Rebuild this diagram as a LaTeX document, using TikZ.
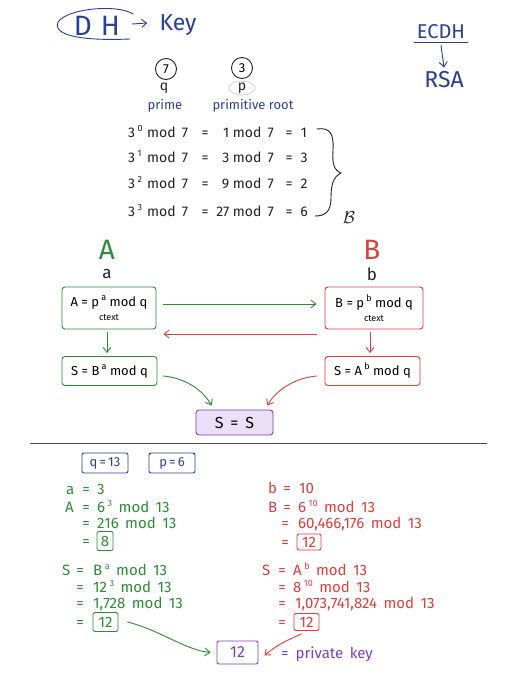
\documentclass[tikz,border=0pt]{standalone}
\usepackage{fontspec}
\setmainfont{Fira Sans}
\usetikzlibrary{arrows.meta,shapes.geometric}
\definecolor{dblue}{HTML}{2B3F96}
\definecolor{dgreen}{HTML}{2F8A3A}
\definecolor{dred}{HTML}{D9413E}
\definecolor{dpurple}{HTML}{7E3FB8}
\definecolor{lpurple}{HTML}{EADFF7}
\definecolor{ink}{HTML}{222222}
\newcommand{\supr}[2]{\,\raisebox{#1}{\fontsize{9}{9}\selectfont #2}}
\tikzset{
  hand/.style={line width=0.9pt, line cap=round, line join=round},
  arr/.style={hand, -{Straight Barb[length=5pt,width=8pt]}},
  f/.style={inner sep=0pt, font=\fontsize{#1}{#1}\selectfont},
  eq/.style={inner sep=0pt, font=\fontsize{14}{16}\selectfont, text height=9.5pt, text depth=0pt, text=ink},
  lo/.style={inner sep=0pt, font=\fontsize{15}{17}\selectfont, text height=10pt, text depth=0pt},
  bx/.style={draw, hand, rounded corners=3pt, inner sep=0pt, align=center, font=\fontsize{13}{15}\selectfont},
  sbx/.style={draw, hand, rounded corners=2pt, inner sep=0pt, font=\fontsize{15}{17}\selectfont},
}
\begin{document}
\begin{tikzpicture}[x=1pt,y=-1pt]
\useasboundingbox (0,0) rectangle (510,680);
\fill[white] (0,0) rectangle (510,680);

% ---------- header ----------
\node[f=28, text=dblue] (dh) at (97,26) {D\hspace{9pt}H};
\draw[hand, dblue] (133,14) .. controls (118,4) and (68,8) .. (58,22) .. controls (52,36) and (84,41) .. (130,39);
\node[f=23, text=dblue] (key) at (178,25) {Key};
\draw[arr, dblue] ([xshift=12pt,yshift=2pt]dh.east) -- ([xshift=-12pt,yshift=2pt]key.west);

\node[f=20, text=dblue] (ecdh) at (441,32) {ECDH};
\draw[hand, dblue] (414,42) -- (468,42);
\node[f=23, text=dblue] (rsa) at (444,80) {RSA};
\draw[arr, dblue] ([yshift=-6pt]ecdh.south) -- ([yshift=4pt]rsa.north);

\node[draw=ink, hand, circle, minimum size=21pt, inner sep=0pt, font=\fontsize{13}{13}\selectfont] (c7) at (166,69) {7};
\node[draw=ink, hand, circle, minimum size=21pt, inner sep=0pt, font=\fontsize{13}{13}\selectfont] (c3) at (242,68) {3};
\node[f=14, text=ink] (q) at (164,88) {q};
\draw[gray!30, line width=1pt] (242,88) ellipse [x radius=13pt, y radius=7pt];
\node[f=14, text=ink] (p) at (242,88) {p};
\node[f=13, text=dblue] (prime) at (165,106) {prime};
\node[f=13, text=dblue] (proot) at (253,106) {primitive root};

% ---------- powers of 3 ----------
\foreach \e/\m/\r/\yy in {0/1/1/133, 1/3/3/158, 2/9/2/184, 3/27/6/212}{
  \node[eq, anchor=west] at (128,\yy) {3\supr{6pt}{\e}};
  \node[eq, anchor=west] at (147,\yy) {mod\, 7};
  \node[eq] at (205,\yy) {=};
  \node[eq, anchor=east] at (274,\yy) {\m\ mod\, 7};
  \node[eq] at (289,\yy) {=};
  \node[eq] at (304,\yy) {\r};
}
\draw[hand, ink] (317,129) .. controls (330,127) and (334,134) .. (333,150)
  .. controls (332,164) and (334,170) .. (341,173)
  .. controls (333,177) and (331,185) .. (331,198)
  .. controls (331,212) and (325,216) .. (315,216);
\node[inner sep=0pt, text=ink, font=\fontsize{16}{16}\selectfont] (bscript) at (349,218) {$\mathcal{B}$};

% ---------- protocol ----------
\node[f=28, text=dgreen] (Alab) at (107,250) {A};
\node[f=17, text=ink] (alow) at (107,274) {a};
\node[f=28, text=dred] (Blab) at (372,250) {B};
\node[f=17, text=ink] (blow) at (372,274) {b};

\node[bx, draw=dgreen, minimum width=94pt, minimum height=42pt] (boxA) at (109,308)
  {A = p\supr{6pt}{a} mod q\\[-1pt]{\fontsize{9}{10}\selectfont ctext}};
\node[bx, draw=dred, minimum width=98pt, minimum height=42pt] (boxB) at (374,308)
  {B = p\supr{6pt}{b} mod q\\[-1pt]{\fontsize{9}{10}\selectfont ctext}};
\node[bx, draw=dgreen, minimum width=95pt, minimum height=29pt] (sA) at (109.5,371) {S = B\supr{6pt}{a} mod q};
\node[bx, draw=dred, minimum width=95pt, minimum height=29pt] (sB) at (372.5,371) {S = A\supr{6pt}{b} mod q};
\node[bx, draw=dpurple, fill=lpurple, minimum width=77pt, minimum height=25pt, font=\fontsize{16}{18}\selectfont] (ss) at (234.5,422.5) {S\, =\, S};

\draw[arr, dgreen] ([xshift=7pt,yshift=4pt]boxA.east) -- ([xshift=-8pt,yshift=4pt]boxB.west);
\draw[arr, dred] ([xshift=-8pt,yshift=-26pt]boxB.west) -- ([xshift=7pt,yshift=-26pt]boxA.east);
\draw[arr, dgreen] ([yshift=-3pt]boxA.south -| 107,0) -- ([yshift=3pt]sA.north -| 107,0);
\draw[arr, dred] ([yshift=-3pt]boxB.south -| 370,0) -- ([yshift=3pt]sB.north -| 370,0);
\draw[arr, dgreen] ([xshift=6pt,yshift=-5pt]sA.east) .. controls (185,378) and (203,390) .. ([xshift=16pt,yshift=4pt]ss.north west);
\draw[arr, dred] ([xshift=-8pt,yshift=-5pt]sB.west) .. controls (295,378) and (276,390) .. ([xshift=-6pt,yshift=4pt]ss.north east);

% ---------- divider ----------
\draw[line width=1pt, ink!80] (30,443) -- (487,443);

% ---------- worked example ----------
\node[sbx, draw=dblue, text=dblue, minimum width=46pt, minimum height=20pt, font=\fontsize{13}{15}\selectfont] (qbox) at (105,463) {q\,=\,13};
\node[sbx, draw=dblue, text=dblue, minimum width=46pt, minimum height=20pt, font=\fontsize{13}{15}\selectfont] (pbox) at (172,463) {p\,=\,6};

\begin{scope}[every node/.append style={lo, text=dgreen}]
\node[anchor=west] at (66,489) {a};
\node at (86,489) {=};
\node[anchor=west] at (97,489) {3};
\node[anchor=west] at (65,507) {A};
\node at (86,507) {=};
\node[anchor=west] at (97,507) {6\supr{6pt}{3}\, mod\, 13};
\node at (86,523) {=};
\node[anchor=west] at (97,523) {216\, mod\, 13};
\node at (86,541) {=};
\node[anchor=west] at (62,570) {S};
\node at (80,570) {=};
\node[anchor=west] at (93,570) {B\supr{6pt}{a}\, mod\, 13};
\node at (80,587) {=};
\node[anchor=west] at (93,587) {12\supr{6pt}{3}\, mod\, 13};
\node at (80,603) {=};
\node[anchor=west] at (93,603) {1,728\, mod\, 13};
\node at (80,622) {=};
\end{scope}
\node[sbx, draw=dgreen, text=dgreen, minimum width=16pt, minimum height=19pt] (a8) at (105,541) {8};
\node[sbx, draw=dgreen, text=dgreen, minimum width=25pt, minimum height=19pt] (aS) at (105.5,622) {12};

\begin{scope}[every node/.append style={lo, text=dred}]
\node[anchor=west] at (268,488) {b};
\node at (287,488) {=};
\node[anchor=west] at (299,488) {10};
\node[anchor=west] at (268,507) {B};
\node at (287,507) {=};
\node[anchor=west] at (298,507) {6\supr{6pt}{10}\, mod\, 13};
\node at (285,523) {=};
\node[anchor=west] at (298,523) {60,466,176\, mod\, 13};
\node at (285,542) {=};
\node[anchor=west] at (262,570) {S};
\node at (282,570) {=};
\node[anchor=west] at (293,570) {A\supr{6pt}{b}\, mod\, 13};
\node at (282,587) {=};
\node[anchor=west] at (293,587) {8\supr{6pt}{10}\, mod\, 13};
\node at (282,603) {=};
\node[anchor=west] at (295,603) {1,073,741,824\, mod\, 13};
\node at (282,622) {=};
\end{scope}
\node[sbx, draw=dred, text=dred, minimum width=24pt, minimum height=16pt] (b12) at (309,542) {12};
\node[sbx, draw=dred, text=dred, minimum width=25pt, minimum height=17pt] (bS) at (306.5,622) {12};

\node[sbx, draw=dpurple, text=dpurple, minimum width=41pt, minimum height=23pt, font=\fontsize{16}{18}\selectfont] (key12) at (237.5,652.5) {12};
\node[lo, text=dpurple, anchor=west] (pk) at (281,653) {=\hspace{7pt}private\, key};

\draw[arr, dgreen] ([xshift=9pt]aS.east) .. controls (160,630) and (185,650) .. ([xshift=-6pt]key12.west);
\draw[arr, dred] ([xshift=-5pt,yshift=-3pt]bS.south) .. controls (288,640) and (278,644) .. ([xshift=6pt,yshift=-3pt]key12.east);
\end{tikzpicture}
\end{document}
